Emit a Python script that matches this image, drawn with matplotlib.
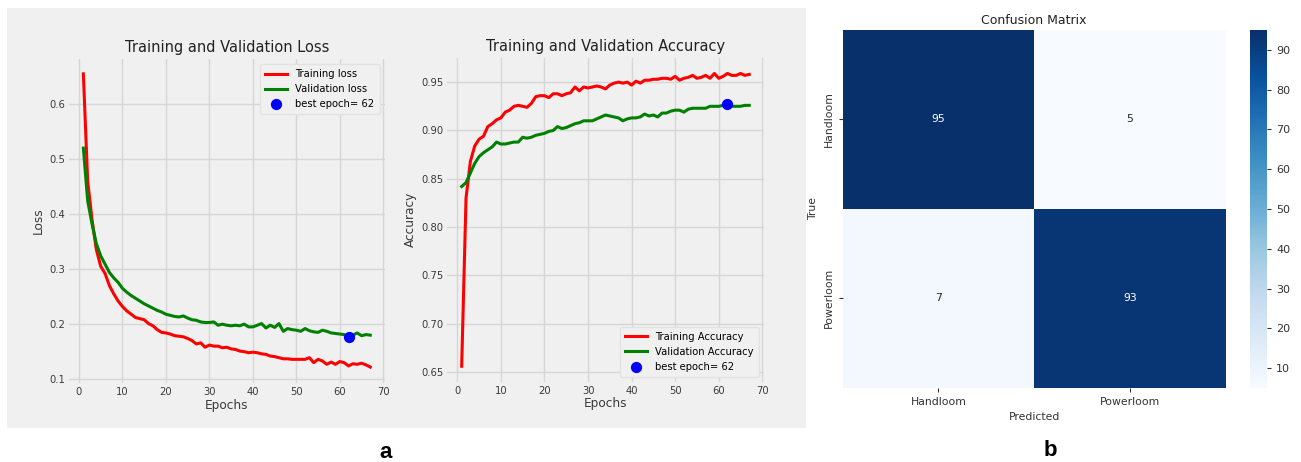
import numpy as np
import matplotlib
matplotlib.use("Agg")
import matplotlib.pyplot as plt
import seaborn as sns

epochs = list(range(1, 68))

train_loss = [0.655, 0.460, 0.390, 0.335, 0.305, 0.292, 0.270, 0.255, 0.242, 0.232,
              0.224, 0.218, 0.212, 0.210, 0.208, 0.201, 0.197, 0.190, 0.185, 0.184,
              0.182, 0.179, 0.178, 0.177, 0.174, 0.170, 0.164, 0.166, 0.158, 0.162,
              0.160, 0.160, 0.157, 0.158, 0.155, 0.154, 0.151, 0.150, 0.148, 0.149,
              0.148, 0.146, 0.145, 0.142, 0.141, 0.139, 0.137, 0.137, 0.136, 0.136,
              0.136, 0.136, 0.139, 0.130, 0.136, 0.133, 0.127, 0.131, 0.127, 0.132,
              0.130, 0.124, 0.128, 0.127, 0.129, 0.126, 0.122]
val_loss = [0.520, 0.424, 0.382, 0.346, 0.324, 0.309, 0.294, 0.284, 0.276, 0.265,
            0.258, 0.252, 0.247, 0.242, 0.237, 0.233, 0.229, 0.225, 0.222, 0.218,
            0.216, 0.214, 0.213, 0.215, 0.211, 0.208, 0.207, 0.204, 0.203, 0.203,
            0.204, 0.198, 0.200, 0.198, 0.197, 0.198, 0.197, 0.200, 0.195, 0.195,
            0.198, 0.201, 0.193, 0.198, 0.194, 0.201, 0.187, 0.192, 0.190, 0.189,
            0.187, 0.192, 0.188, 0.186, 0.185, 0.189, 0.187, 0.184, 0.183, 0.182,
            0.181, 0.176, 0.180, 0.184, 0.179, 0.181, 0.180]
train_acc = [0.656, 0.830, 0.868, 0.884, 0.891, 0.894, 0.904, 0.907, 0.911, 0.913,
             0.919, 0.921, 0.925, 0.926, 0.925, 0.924, 0.928, 0.935, 0.936, 0.936,
             0.934, 0.938, 0.938, 0.936, 0.938, 0.939, 0.945, 0.941, 0.945, 0.944,
             0.945, 0.946, 0.945, 0.943, 0.947, 0.949, 0.950, 0.949, 0.950, 0.947,
             0.951, 0.949, 0.952, 0.952, 0.953, 0.953, 0.954, 0.954, 0.953, 0.956,
             0.952, 0.954, 0.955, 0.957, 0.954, 0.955, 0.957, 0.954, 0.959, 0.954,
             0.956, 0.959, 0.957, 0.957, 0.959, 0.957, 0.958]
val_acc = [0.842, 0.846, 0.856, 0.866, 0.873, 0.877, 0.880, 0.883, 0.888, 0.886,
           0.886, 0.887, 0.888, 0.888, 0.893, 0.892, 0.893, 0.895, 0.896, 0.897,
           0.899, 0.900, 0.904, 0.902, 0.903, 0.905, 0.907, 0.908, 0.910, 0.910,
           0.910, 0.912, 0.914, 0.916, 0.915, 0.914, 0.913, 0.910, 0.912, 0.913,
           0.913, 0.914, 0.917, 0.915, 0.916, 0.914, 0.918, 0.918, 0.920, 0.921,
           0.921, 0.919, 0.922, 0.923, 0.923, 0.923, 0.923, 0.925, 0.925, 0.925,
           0.926, 0.927, 0.925, 0.925, 0.925, 0.926, 0.926]

best_epoch = 62
class_names = ["Handloom", "Powerloom"]
cm_values = [[95, 5], [7, 93]]

W, H = 1301, 462
fig = plt.figure(figsize=(W / 100, H / 100), dpi=100, facecolor="white")

def fx(px):
    return px / W

def fy(py):
    return 1 - py / H

BG = "#f0f0f0"
TICKC = "#3a3a3a"

# grey panel behind (a)
bgax = fig.add_axes([fx(7), fy(428), fx(806) - fx(7), fy(8) - fy(428)])
bgax.set_facecolor(BG)
bgax.set_xticks([])
bgax.set_yticks([])
for s in bgax.spines.values():
    s.set_visible(False)

def style_ax(ax):
    ax.set_facecolor(BG)
    for s in ax.spines.values():
        s.set_visible(False)
    ax.grid(True, color="#d6d6d6", linewidth=1.0)
    ax.set_axisbelow(True)
    ax.tick_params(length=0, labelsize=7.2, colors=TICKC, pad=3)

# Loss axes
ax1 = fig.add_axes([fx(69), fy(383), fx(384.6) - fx(69), fy(59) - fy(383)])
style_ax(ax1)
ax1.plot(epochs, train_loss, color="red", lw=2.2, label="Training loss")
ax1.plot(epochs, val_loss, color="green", lw=2.2, label="Validation loss")
ax1.scatter([best_epoch], [val_loss[best_epoch - 1]], s=50, color="blue",
            label="best epoch= " + str(best_epoch), zorder=5)
ax1.set_xlim(-2.3, 70.3)
ax1.set_ylim(0.093, 0.682)
ax1.set_xticks([0, 10, 20, 30, 40, 50, 60, 70])
ax1.set_yticks([0.1, 0.2, 0.3, 0.4, 0.5, 0.6])
ax1.set_title("Training and Validation Loss", fontsize=10.5, color="#222222", pad=5)
ax1.set_xlabel("Epochs", fontsize=8.7, color=TICKC, labelpad=1)
ax1.set_ylabel("Loss", fontsize=8.7, color=TICKC, labelpad=3)
ax1.legend(loc="upper right", fontsize=7.2, frameon=True, facecolor=BG,
           edgecolor="#e2e2e2", framealpha=1, borderpad=0.5, handlelength=2.2)

# Accuracy axes
ax2 = fig.add_axes([fx(447.3), fy(381.7), fx(763.6) - fx(447.3), fy(58) - fy(381.7)])
style_ax(ax2)
ax2.plot(epochs, train_acc, color="red", lw=2.2, label="Training Accuracy")
ax2.plot(epochs, val_acc, color="green", lw=2.2, label="Validation Accuracy")
ax2.scatter([best_epoch], [val_acc[best_epoch - 1]], s=50, color="blue",
            label="best epoch= " + str(best_epoch), zorder=5)
ax2.set_xlim(-2.3, 70.3)
ax2.set_ylim(0.640, 0.975)
ax2.set_xticks([0, 10, 20, 30, 40, 50, 60, 70])
ax2.set_yticks([0.65, 0.70, 0.75, 0.80, 0.85, 0.90, 0.95])
ax2.yaxis.set_major_formatter(matplotlib.ticker.FormatStrFormatter("%.2f"))
ax2.set_title("Training and Validation Accuracy", fontsize=10.5, color="#222222", pad=5)
ax2.set_xlabel("Epochs", fontsize=8.7, color=TICKC, labelpad=1)
ax2.set_ylabel("Accuracy", fontsize=8.7, color=TICKC, labelpad=3)
ax2.legend(loc="lower right", fontsize=7.2, frameon=True, facecolor=BG,
           edgecolor="#e2e2e2", framealpha=1, borderpad=0.5, handlelength=2.2)

# Confusion matrix
ax3 = fig.add_axes([fx(842.7), fy(387.7), fx(1225.7) - fx(842.7), fy(30) - fy(387.7)])
cax = fig.add_axes([fx(1250), fy(388), fx(1267) - fx(1250), fy(30) - fy(388)])
sns.heatmap(np.array(cm_values), annot=True, fmt="d", cmap="Blues", ax=ax3, cbar_ax=cax,
            xticklabels=class_names, yticklabels=class_names,
            annot_kws={"fontsize": 7.8})
ax3.set_title("Confusion Matrix", fontsize=9, color="#222222", pad=4)
ax3.set_xlabel("Predicted", fontsize=7.8, color="#333333")
ax3.set_ylabel("True", fontsize=7.8, color="#333333")
ax3.tick_params(labelsize=7.8, colors="#333333", length=3, width=0.8)
for t in ax3.get_yticklabels():
    t.set_rotation(90)
    t.set_va("center")
cax.tick_params(labelsize=8, colors="#333333", length=3, width=0.8)

# panel labels
fig.text(fx(386), fy(452), "a", fontsize=16, fontweight="bold",
         family="Liberation Sans", ha="center", va="center")
fig.text(fx(1050), fy(450), "b", fontsize=16, fontweight="bold",
         family="Liberation Sans", ha="center", va="center")

fig.savefig("out.png", dpi=100, facecolor="white")
